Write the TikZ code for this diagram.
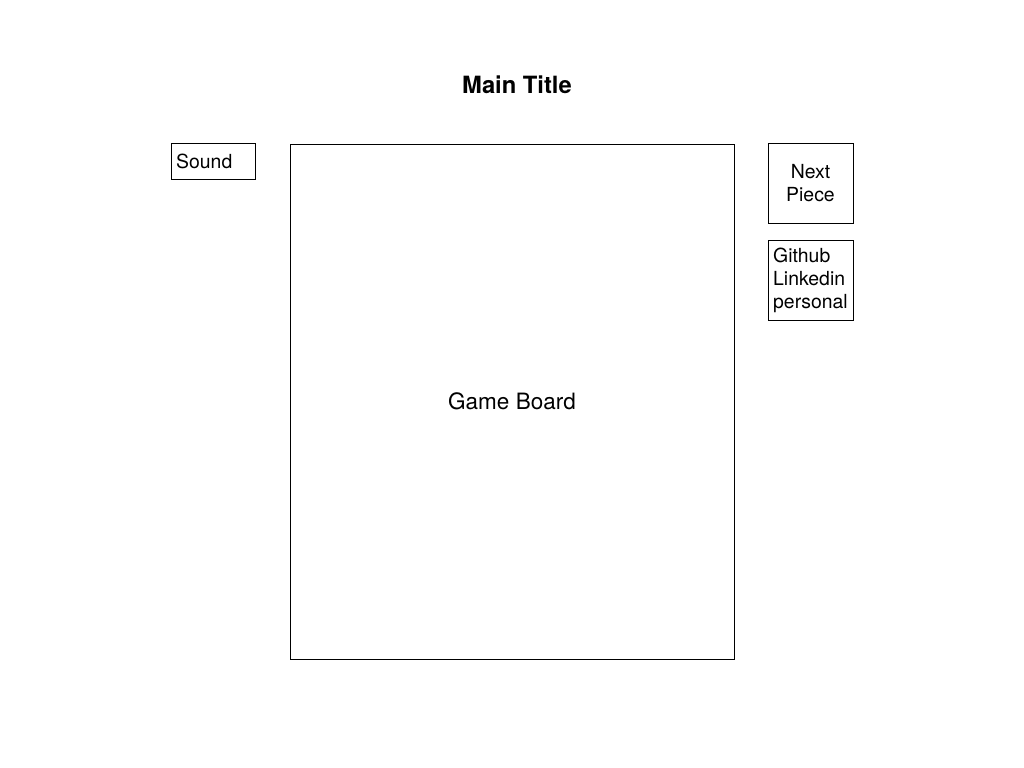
\documentclass[tikz,border=0pt]{standalone}
\usepackage{fontspec}
\setmainfont{TeX Gyre Heros}
\begin{document}
\begin{tikzpicture}[x=0.025cm,y=-0.025cm,
    box/.style={draw,line width=0.5pt,inner sep=0pt,font=\fontsize{13.8}{16.4}\selectfont},
    sidebox/.style={box,inner xsep=0.13cm,text width=1.865cm,align=left}]
                \useasboundingbox (0,0) rectangle (1024,768);
                \node[font=\fontsize{16.9}{20}\selectfont\bfseries] (title) at (517,85) {Main Title};
                \node[box,minimum width=11.1cm,minimum height=12.875cm,font=\fontsize{16}{19}\selectfont] (board) at (512,401.5) {Game Board};
                \node[sidebox,text width=1.84cm,minimum height=0.9cm] (sound) at (213,161) {Sound};
                \node[box,minimum width=2.125cm,minimum height=2cm,align=center] (next) at (810.5,183) {Next\\Piece};
                \node[sidebox,minimum height=2cm] (links) at (810.5,280) {Github\\Linkedin\\personal};
            \end{tikzpicture}
\end{document}
